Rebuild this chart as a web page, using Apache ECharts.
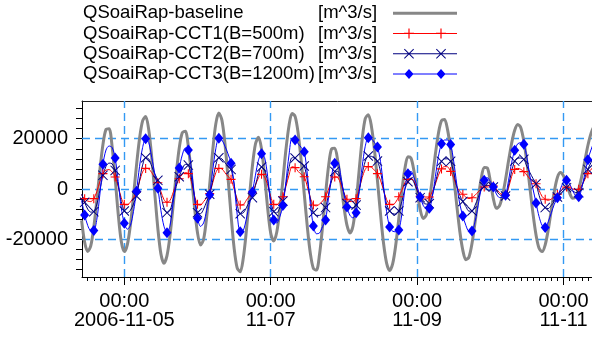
<!DOCTYPE html>
<html><head><meta charset="utf-8">
<script src="https://cdn.jsdelivr.net/npm/echarts@6/dist/echarts.min.js"></script>
<style>html,body{margin:0;padding:0;background:#fff}#c{width:592px;height:338px}</style>
</head><body><div id="c"></div>
<script>
// hours relative to 2006-11-05 00:00, hourly samples
const startHour = -14;
const baseline = [
-12500,-21200,-24900,-22600,-15200,-4300,7600,17700,23700,24000,
16900,4200,-9900,-20800,-24900,-22100,-14300,-3000,9400,20100,
27100,28800,23700,12500,-1800,-15700,-25800,-29500,-26500,-18400,
-6800,5700,16200,22400,23000,16800,5600,-7000,-17400,-22300,
-20000,-11200,1800,15400,25900,30200,27400,18100,4600,-10400,
-23400,-31400,-32900,-27600,-16900,-3600,9100,17900,20600,15900,
5100,-7600,-17500,-20700,-17100,-8300,3500,15700,25200,30000,
28900,22200,11200,-1900,-15000,-25600,-31600,-32200,-26100,-15000,
-2000,9400,16000,16200,11100,2600,-6900,-14400,-17500,-14600,
-5300,7400,19900,28000,29550,25100,15800,3400,-9900,-21600,
-29500,-32400,-29700,-22300,-11800,-800,8100,12800,12300,7000,
-900,-8100,-11700,-10300,-4600,4200,13900,22200,27200,27600,
23500,15500,5000,-6400,-16800,-24400,-28100,-27100,-21700,-13300,
-3900,4000,8600,8400,3200,-3800,-7700,-6700,-2600,3800,
11300,18200,23400,25700,24400,19000,10600,400,-9800,-18300,
-23600,-24900,-22200,-16200,-8400,-900,4600,6550,5200,1900,
-1600,-3700,-3100,0,5100,11200,17300,22000,24700,24900,
24300];
const cct1 = [
-2500,-3840,-4800,-5000,-3840,-1000,3000,6100,7500,7700,
6800,4770,1000,-3500,-6100,-6300,-5200,-3500,-1060,3000,
6800,8200,8000,6500,4500,2500,-1000,-4200,-5300,-4500,
-1500,1800,4100,5800,6500,6100,3000,-2500,-6100,-6400,
-5000,-3500,-1800,2500,6500,8200,8000,6500,5000,3840,
0,-4000,-6360,-6200,-4500,-2800,-1460,1500,4500,5830,
4800,1500,-3000,-6100,-6300,-5000,-3050,1000,5500,8900,
8500,7000,5800,4900,1000,-3500,-6360,-6700,-6000,-4800,
-3050,0,3500,4800,4500,2000,-1500,-4100,-5000,-5000,
-3840,0,4500,7800,8900,8700,7500,6100,3500,-500,
-4200,-6100,-6300,-5200,-3050,-500,2500,3840,4300,3000,
0,-2900,-4000,-4000,-3200,-1000,2000,5500,8000,8900,
8800,7000,4500,1000,-1000,-2100,-3300,-3800,-3450,-2500,
-1200,0,800,1300,1500,1200,0,-1500,-2300,-2400,
500,5000,7800,8200,7800,6900,5500,4000,3000,2100,
-500,-3000,-4100,-4500,-4000,-3000,-2100,-800,400,800,
500,0,-200,-130,1500,3800,6100,7800,8600,8900,
8800];
const cct2 = [
-2000,-5300,-8000,-9200,-9000,-6000,-500,5430,9000,10300,
10000,7400,1500,-5000,-8750,-9500,-8500,-6000,-2800,3500,
9500,12450,12000,9000,6000,3450,-2500,-7500,-9400,-8500,
-4000,1000,4900,8000,9800,9500,4500,-3000,-9400,-9800,
-8000,-5000,-2100,3500,9500,12450,12000,10500,9000,7800,
2000,-6000,-9800,-9500,-7500,-5000,-3450,1500,6000,8750,
7500,3000,-4500,-9000,-9500,-7500,-4800,2000,8500,12450,
12300,11200,10200,9140,3500,-4000,-9400,-10500,-10500,-9500,
-7400,-2000,3500,7000,7000,3500,-1500,-5800,-7300,-7500,
-6400,-1000,6000,11000,13100,13000,12200,11100,7000,0,
-6000,-8750,-9800,-10000,-8750,-5000,0,2900,4300,2500,
-500,-3450,-5500,-6000,-5800,-2500,2500,7500,11000,12000,
12000,11000,6500,1000,-2500,-5000,-7000,-8800,-8750,-6500,
-3500,-500,1000,1500,1200,800,-800,-2200,-2800,-2800,
1500,7000,11100,12300,12300,11800,9000,6500,4200,2100,
-2500,-6000,-7400,-7800,-6500,-5000,-3200,-1000,300,530,
0,-800,-1400,-1460,1000,4500,7800,10500,12000,12500,
12500];
const cct3 = [
-4500,-10300,-14500,-16500,-16500,-12000,-2000,9800,15500,17100,
16500,12300,3000,-7500,-13650,-16000,-14500,-9000,-930,9000,
16500,20000,18500,12500,6000,260,-8500,-14800,-17360,-14500,
-5500,3000,8350,13500,16300,15500,8000,-3000,-11600,-14900,
-13500,-8500,-2250,7500,16000,20200,19500,17000,14000,10200,
2000,-10000,-17000,-16500,-12000,-6000,-1200,5500,11500,14000,
12500,5000,-6000,-12300,-13500,-11000,-6600,3000,13500,20300,
19500,18000,16500,14840,6000,-6000,-14700,-17800,-17500,-15000,
-12300,-3000,5500,10200,10500,5000,-2000,-7150,-10500,-11500,
-9400,-1000,9000,17000,20400,20000,18500,16700,11000,1000,
-9000,-15100,-16800,-17000,-16300,-10000,0,6100,7000,4500,
1000,-3200,-6500,-7800,-7700,-3000,5000,13000,18000,19500,
19500,17700,11000,2000,-6000,-10700,-14500,-16800,-16700,-13000,
-6500,0,3450,4500,3000,800,-2000,-3400,-3400,-2500,
3500,10500,15370,18000,18400,17750,12500,5000,0,-5560,
-11000,-14500,-15300,-13000,-9500,-6000,-3450,0,2800,3450,
2000,-500,-2800,-3050,500,6000,11660,15500,18500,19800,
20000];
const seriesNames = ['QSoaiRap-baseline','QSoaiRap-CCT1(B=500m)','QSoaiRap-CCT2(B=700m)','QSoaiRap-CCT3(B=1200m)'];
const unitLabel = '[m^3/s]';
const xTickHours = [0, 48, 96, 144];
const xTickLabels = ['00:00\n2006-11-05', '00:00\n11-07', '00:00\n11-09', '00:00\n11-11'];
const yTickValues = [-20000, 0, 20000];
const yTickLabels = ['-20000', '0', '20000'];

const hours = baseline.map((_, i) => startHour + i);
const toPairs = arr => arr.map((v, i) => [hours[i], v]);

const minorX = []; for (let h = -12; h <= 156; h += 2) minorX.push(h);
const minorY = []; for (let v = -32000; v <= 32000; v += 4000) minorY.push(v);
const markerHours = new Set(); for (let k = -4; k <= 44; k++) markerHours.add(Math.round(k * 3.45 + 0.3));
const markSize = s => (val) => markerHours.has(val[0]) ? s : 0;

const FONT = "'Liberation Sans', Arial, sans-serif";
const plusSym = 'path://M4.4,0h1.2v4.4h4.4v1.2h-4.4v4.4h-1.2v-4.4h-4.4v-1.2h4.4z';
const xSym = 'path://M0,0.7L0.7,0L5,4.3L9.3,0L10,0.7L5.7,5L10,9.3L9.3,10L5,5.7L0.7,10L0,9.3L4.3,5Z';
const lineRect = 'M0,4.5h64v1h-64z';
const baseIcon = 'path://M0,0h64v3h-64z';
const plusIcon = 'path://' + lineRect + ' M15.4,0h1.2v4.4h4.4v1.2h-4.4v4.4h-1.2v-4.4h-4.4v-1.2h4.4z M47.4,0h1.2v4.4h4.4v1.2h-4.4v4.4h-1.2v-4.4h-4.4v-1.2h4.4z';
const xIcon = 'path://' + lineRect + ' M11,0.7L11.7,0L16,4.3L20.3,0L21,0.7L16.7,5L21,9.3L20.3,10L16,5.7L11.7,10L11,9.3L15.3,5Z M43,0.7L43.7,0L48,4.3L52.3,0L53,0.7L48.7,5L53,9.3L52.3,10L48,5.7L43.7,10L43,9.3L47.3,5Z';
const diamondIcon = 'path://' + lineRect + ' M16,0L20.5,5L16,10L11.5,5Z M48,0L52.5,5L48,10L43.5,5Z';

const xMin = -13.87, xMax = 155.97;
const richTok = {fontFamily: FONT, fontSize: 18.5, color: '#000', lineHeight: 20.3, align: 'left'};
const chart = echarts.init(document.getElementById('c'), null, {renderer: 'canvas'});
chart.setOption({
  animation: false,
  backgroundColor: '#fff',
  textStyle: {fontFamily: FONT},
  grid: {left: 82, top: 101, right: -8, bottom: 61, containLabel: false, outerBoundsMode: 'none'},
  legend: {
    orient: 'vertical', left: 83, top: 3, align: 'right', padding: 0,
    itemWidth: 64, itemHeight: 10, itemGap: 0, selectedMode: false,
    itemStyle: {borderWidth: 0},
    textStyle: {fontFamily: FONT, fontSize: 18.5, color: '#000', lineHeight: 20.3,
      rich: {n: Object.assign({width: 235}, richTok), u: Object.assign({width: 70}, richTok)}},
    formatter: name => '{n|' + name + '}{u|' + unitLabel + '}',
    data: [{name: seriesNames[0], icon: baseIcon}, {name: seriesNames[1], icon: plusIcon},
           {name: seriesNames[2], icon: xIcon}, {name: seriesNames[3], icon: diamondIcon}]
  },
  xAxis: [
    {type: 'value', min: xMin, max: xMax, position: 'bottom',
     axisLine: {show: true, onZero: false, lineStyle: {color: '#000', width: 1}},
     axisTick: {show: true, inside: false, length: 4, customValues: minorX, lineStyle: {color: '#000'}},
     axisLabel: {customValues: xTickHours, formatter: v => xTickLabels[xTickHours.indexOf(v)],
                 fontSize: 20, lineHeight: 19, margin: 15, color: '#000', fontFamily: FONT},
     splitLine: {show: false}},
    {type: 'value', min: xMin, max: xMax, position: 'bottom',
     axisLine: {show: false, onZero: false},
     axisTick: {show: true, length: 8, customValues: xTickHours, lineStyle: {color: '#000'}},
     axisLabel: {show: false}, splitLine: {show: false}},
    {type: 'value', min: xMin, max: xMax, position: 'top',
     axisLine: {show: true, onZero: false, lineStyle: {color: '#222', width: 1}},
     axisTick: {show: false}, axisLabel: {show: false}, splitLine: {show: false}}
  ],
  yAxis: {type: 'value', min: -35000, max: 35000,
    axisLine: {show: true, onZero: false, lineStyle: {color: '#000', width: 1}},
    axisTick: {show: true, inside: false, length: 6, customValues: minorY, lineStyle: {color: '#000'}},
    axisLabel: {customValues: yTickValues, formatter: v => yTickLabels[yTickValues.indexOf(v)],
                fontSize: 20, margin: 14, color: '#000', fontFamily: FONT},
    splitLine: {show: false}},
  series: [
    {name: seriesNames[0], type: 'line', data: toPairs(baseline), symbol: 'none', showSymbol: false,
     smooth: 0.3, lineStyle: {color: '#878787', width: 3}, itemStyle: {color: '#878787', borderWidth: 0},
     markLine: {silent: true, z: 1, symbol: ['none', 'none'], label: {show: false}, animation: false,
       lineStyle: {color: '#3399f3', type: [8, 5], width: 1.4},
       emphasis: {disabled: true},
       data: yTickValues.map(v => ({yAxis: v})).concat(xTickHours.map(h => ({xAxis: h})))}},
    {name: seriesNames[1], type: 'line', data: toPairs(cct1), symbol: plusSym, symbolSize: markSize(9),
     showAllSymbol: true, smooth: 0.3, lineStyle: {color: '#ff0000', width: 1}, itemStyle: {color: '#ff0000', borderWidth: 0}},
    {name: seriesNames[2], type: 'line', data: toPairs(cct2), symbol: xSym, symbolSize: markSize(10),
     showAllSymbol: true, smooth: 0.3, lineStyle: {color: '#000080', width: 1}, itemStyle: {color: '#000080', borderWidth: 0}},
    {name: seriesNames[3], type: 'line', data: toPairs(cct3), symbol: 'diamond', symbolSize: (v) => markerHours.has(v[0]) ? [9, 11] : 0,
     showAllSymbol: true, smooth: 0.3, lineStyle: {color: '#0000ff', width: 1}, itemStyle: {color: '#0000ff', borderWidth: 0}}
  ]
});
</script></body></html>
